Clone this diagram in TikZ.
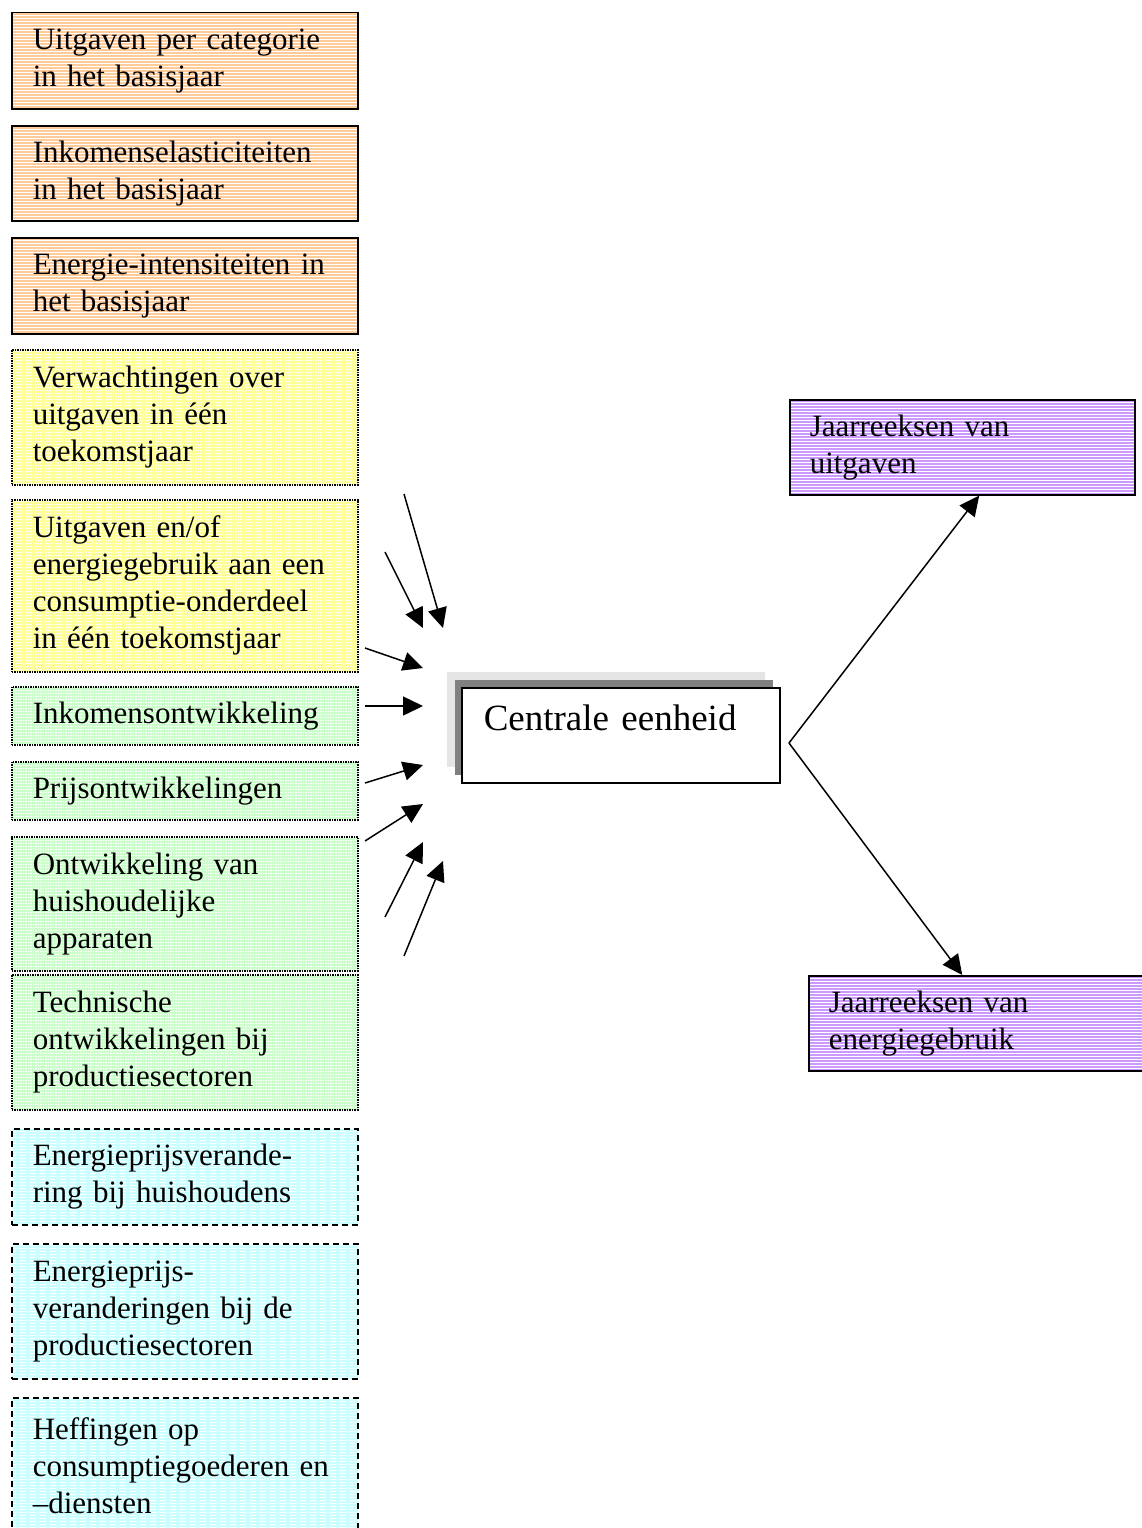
\documentclass[tikz,border=0pt]{standalone}
\usepackage{fontspec}
\setmainfont{Liberation Serif}
\usepackage{tikz}
\usetikzlibrary{arrows.meta,patterns,shadows}

\definecolor{oranje}{RGB}{255,204,153}
\definecolor{geel}{RGB}{255,255,153}
\definecolor{groen}{RGB}{204,255,204}
\definecolor{cyaan}{RGB}{204,255,255}
\definecolor{paars}{RGB}{204,153,255}

\begin{document}
\begin{tikzpicture}[->,>={Triangle[length=20pt,width=19pt]},x=1pt,y=-1pt,
                    line width=1.5pt,font=\fontsize{31}{37}\selectfont]
  \tikzstyle{invoer}=[draw,anchor=north west,minimum width=346pt,
                      inner xsep=21pt,text width=304pt,align=left,
                      pattern=horizontal lines,pattern color=white]
  \tikzstyle{basis}=[invoer,solid,preaction={fill=oranje}]
  \tikzstyle{verwacht}=[invoer,densely dotted,preaction={fill=geel}]
  \tikzstyle{ontwikkel}=[invoer,densely dotted,preaction={fill=groen}]
  \tikzstyle{prijs}=[invoer,dash pattern=on 6pt off 4pt,preaction={fill=cyaan}]
  \tikzstyle{uitvoer}=[draw,solid,anchor=north west,minimum width=345pt,
                       minimum height=95pt,inner xsep=20pt,text width=305pt,
                       align=left,preaction={fill=paars},
                       pattern=horizontal lines,pattern color=white]
  \tikzstyle{centraal}=[draw,fill=white,anchor=north west,inner xsep=22pt,
                        inner ysep=0pt,text width=274pt,align=left,
                        text height=43pt,text depth=52pt,
                        font=\fontsize{37}{44}\selectfont,
                        drop shadow={shadow xshift=-15pt,shadow yshift=16pt,
                                     fill=black!10,opacity=1},
                        drop shadow={shadow xshift=-7pt,shadow yshift=8pt,
                                     fill=black!50,opacity=1}]

  \useasboundingbox (0,0) rectangle (1142,1528);
  \clip (0,0) rectangle (1142,1528);

  % invoer
  \node[basis,minimum height=96pt]     (b1)  at (11,12)   {Uitgaven per categorie\\in het basisjaar};
  \node[basis,minimum height=95pt]     (b2)  at (11,125)  {Inkomenselasticiteiten\\in het basisjaar};
  \node[basis,minimum height=96pt]     (b3)  at (11,237)  {Energie-intensiteiten in\\het basisjaar};
  \node[verwacht,minimum height=135pt] (b4)  at (11,349)  {Verwachtingen over\\uitgaven in één\\toekomstjaar};
  \node[verwacht,minimum height=172pt] (b5)  at (11,499)  {Uitgaven en/of\\energiegebruik aan een\\consumptie-onderdeel\\in één toekomstjaar};
  \node[ontwikkel,minimum height=58pt] (b6)  at (11,686)  {Inkomensontwikkeling};
  \node[ontwikkel,minimum height=58pt] (b7)  at (11,761)  {Prijsontwikkelingen};
  \node[ontwikkel,minimum height=134pt] (b8) at (11,836)  {Ontwikkeling van\\huishoudelijke\\apparaten};
  \node[ontwikkel,minimum height=135pt] (b9) at (11,974)  {Technische\\ontwikkelingen bij\\productiesectoren};
  \node[prijs,minimum height=96pt]     (b10) at (11,1128) {Energieprijsverande-\\ring bij huishoudens};
  \node[prijs,minimum height=135pt]    (b11) at (11,1243) {Energieprijs-\\veranderingen bij de\\productiesectoren};
  \node[prijs,minimum height=135pt]    (b12) at (11,1397) {Heffingen op\\consumptiegoederen en\\–diensten};

  % centrale eenheid en uitvoer
  \node[centraal] (ce)   at (461,687) {Centrale eenheid};
  \node[uitvoer]  (uit)  at (789,399) {Jaarreeksen van\\uitgaven};
  \node[uitvoer]  (ener) at (808,975) {Jaarreeksen van\\energiegebruik};

  \coordinate (A1) at (404,494);  \coordinate (T1) at (443,628);
  \coordinate (A2) at (385,552);  \coordinate (T2) at (423,628);
  \coordinate (A3) at (365,648);  \coordinate (T3) at (423,668);
  \coordinate (A4) at (365,706);  \coordinate (T4) at (423,706);
  \coordinate (A5) at (365,783);  \coordinate (T5) at (423,765);
  \coordinate (A6) at (365,841);  \coordinate (T6) at (423,804);
  \coordinate (A7) at (385,917);  \coordinate (T7) at (423,842);
  \coordinate (A8) at (404,956);  \coordinate (T8) at (443,861);
  \coordinate (V)  at (789,743);

  \path (A1) edge (T1)
        (A2) edge (T2)
        (A3) edge (T3)
        (A4) edge (T4)
        (A5) edge (T5)
        (A6) edge (T6)
        (A7) edge (T7)
        (A8) edge (T8);

  \path (V) edge ([xshift=17pt]uit.south)
        (V) edge ([xshift=-19pt]ener.north);

\end{tikzpicture}
\end{document}
